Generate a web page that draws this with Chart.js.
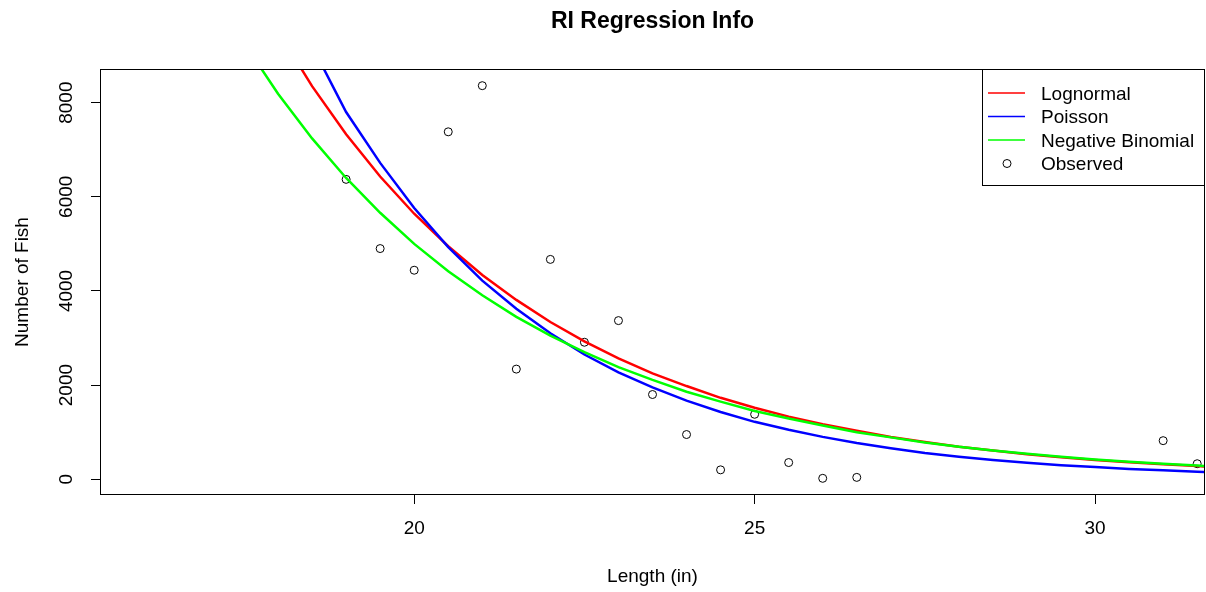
<!DOCTYPE html>
<html>
<head>
<meta charset="utf-8">
<title>RI Regression Info</title>
<script src="https://cdn.jsdelivr.net/npm/chart.js@4.4.1/dist/chart.umd.min.js"></script>
<style>
  html, body { margin: 0; padding: 0; background: #fff; overflow: hidden; }
</style>
</head>
<body>
<canvas id="fishChart" width="1206" height="592"></canvas>
<script>
// chart data
const titleText = 'RI Regression Info';
const xTitle = 'Length (in)';
const yTitle = 'Number of Fish';
const xTicks = [20, 25, 30];
const yTicks = [0, 2000, 4000, 6000, 8000];

// fitted curves, sampled every half inch
const curveX = [17.5, 18, 18.5, 19, 19.5, 20, 20.5, 21, 21.5, 22, 22.5, 23, 23.5, 24, 24.5,
  25, 25.5, 26, 26.5, 27, 27.5, 28, 28.5, 29, 29.5, 30, 30.5, 31, 31.5, 32];
const lognormal = [10850, 9520, 8350, 7330, 6430, 5640, 4950, 4340, 3810, 3340, 2930, 2570, 2250, 1980, 1730,
  1520, 1330, 1170, 1030, 900, 790, 690, 610, 530, 470, 410, 360, 320, 280, 245];
const poisson = [12490, 10700, 9200, 7800, 6720, 5760, 4930, 4220, 3620, 3100, 2650, 2270, 1950, 1670, 1430,
  1220, 1050, 900, 770, 660, 560, 480, 410, 350, 300, 260, 220, 190, 160, 140];
const negBinomial = [9270, 8190, 7240, 6400, 5660, 5000, 4420, 3910, 3450, 3050, 2700, 2380, 2110, 1860, 1650,
  1450, 1290, 1140, 1000, 890, 780, 690, 610, 540, 480, 420, 370, 330, 290, 260];

// observed counts
const obsX = [19, 19.5, 20, 20.5, 21, 21.5, 22, 22.5, 23, 23.5, 24, 24.5, 25, 25.5, 26, 26.5, 31, 31.5];
const obsY = [6370, 4900, 4440, 7380, 8360, 2340, 4670, 2910, 3370, 1800, 950, 200, 1380, 355, 20, 40, 820, 330];

const seriesNames = ['Lognormal', 'Poisson', 'Negative Binomial', 'Observed'];
const seriesColors = ['#ff0000', '#0000ff', '#00ff00', '#000000'];

const FONT = '"Liberation Sans", Arial, sans-serif';

function pairs(xs, ys) {
  return xs.map((x, i) => ({ x: x, y: ys[i] }));
}

function curve(i, ys, order) {
  return {
    label: seriesNames[i],
    data: pairs(curveX, ys),
    showLine: true,
    borderColor: seriesColors[i],
    borderWidth: 2.5,
    pointRadius: 0,
    fill: false,
    order: order
  };
}

// R style box, title and legend
const rFrame = {
  id: 'rFrame',
  afterDraw(chart) {
    const ctx = chart.ctx;
    const ca = chart.chartArea;
    ctx.save();

    // box round the plot
    ctx.strokeStyle = '#000';
    ctx.lineWidth = 1;
    ctx.strokeRect(ca.left - 0.5, ca.top - 0.5, ca.right - ca.left + 1, ca.bottom - ca.top + 1);

    // title
    ctx.fillStyle = '#000';
    ctx.font = 'bold 23px ' + FONT;
    ctx.textAlign = 'center';
    ctx.textBaseline = 'middle';
    ctx.fillText(titleText, (ca.left + ca.right) / 2, 22);

    // legend
    const bw = 221, bh = 116;
    const bx = ca.right - bw, by = ca.top;
    ctx.fillStyle = '#fff';
    ctx.fillRect(bx, by, bw, bh);
    ctx.strokeStyle = '#000';
    ctx.strokeRect(bx - 0.5, by - 0.5, bw + 1, bh);
    ctx.font = '19px ' + FONT;
    ctx.textAlign = 'left';
    seriesNames.forEach((name, i) => {
      const y = by + 23 + i * 23.5;
      if (i < 3) {
        ctx.strokeStyle = seriesColors[i];
        ctx.lineWidth = 1.5;
        ctx.beginPath();
        ctx.moveTo(bx + 5, y);
        ctx.lineTo(bx + 42, y);
        ctx.stroke();
      } else {
        ctx.strokeStyle = '#000';
        ctx.lineWidth = 1;
        ctx.beginPath();
        ctx.arc(bx + 24, y, 4, 0, Math.PI * 2);
        ctx.stroke();
      }
      ctx.fillStyle = '#000';
      ctx.fillText(name, bx + 58, y + 1.5);
    });
    ctx.restore();
  }
};

new Chart(document.getElementById('fishChart'), {
  type: 'scatter',
  data: {
    datasets: [
      curve(0, lognormal, 3),
      curve(1, poisson, 2),
      curve(2, negBinomial, 1),
      {
        label: seriesNames[3],
        data: pairs(obsX, obsY),
        showLine: false,
        pointStyle: 'circle',
        pointRadius: 4,
        pointBorderWidth: 1,
        pointBorderColor: '#000',
        pointBackgroundColor: 'rgba(0,0,0,0)',
        order: 4
      }
    ]
  },
  options: {
    responsive: false,
    animation: false,
    layout: { autoPadding: false, padding: { top: 70, right: 2, left: 0, bottom: 0 } },
    plugins: {
      legend: { display: false },
      title: { display: false },
      tooltip: { enabled: false }
    },
    scales: {
      x: {
        type: 'linear',
        min: 15.4,
        max: 31.6,
        afterBuildTicks: s => { s.ticks = xTicks.map(v => ({ value: v })); },
        afterFit: s => { s.height = 98; s.paddingLeft = 0; s.paddingRight = 0; },
        border: { display: false },
        grid: { drawOnChartArea: false, tickLength: 10, color: '#000', tickColor: '#000', tickWidth: 1 },
        ticks: { color: '#000', font: { family: FONT, size: 19 }, padding: 13, maxRotation: 0, autoSkip: false,
          callback: v => String(v) },
        title: { display: true, text: xTitle, color: '#000', font: { family: FONT, size: 19 }, padding: { top: 0, bottom: 4 } }
      },
      y: {
        type: 'linear',
        min: -313,
        max: 8693,
        afterBuildTicks: s => { s.ticks = yTicks.map(v => ({ value: v })); },
        afterFit: s => { s.width = 101; },
        border: { display: false },
        grid: { drawOnChartArea: false, tickLength: 10, color: '#000', tickColor: '#000', tickWidth: 1 },
        ticks: { color: '#000', font: { family: FONT, size: 19 }, padding: 3, minRotation: 90, crossAlign: 'center', autoSkip: false,
          callback: v => String(v) },
        title: { display: true, text: yTitle, color: '#000', font: { family: FONT, size: 19 }, padding: { top: 11, bottom: 0 } }
      }
    }
  },
  plugins: [rFrame]
});
</script>
</body>
</html>
